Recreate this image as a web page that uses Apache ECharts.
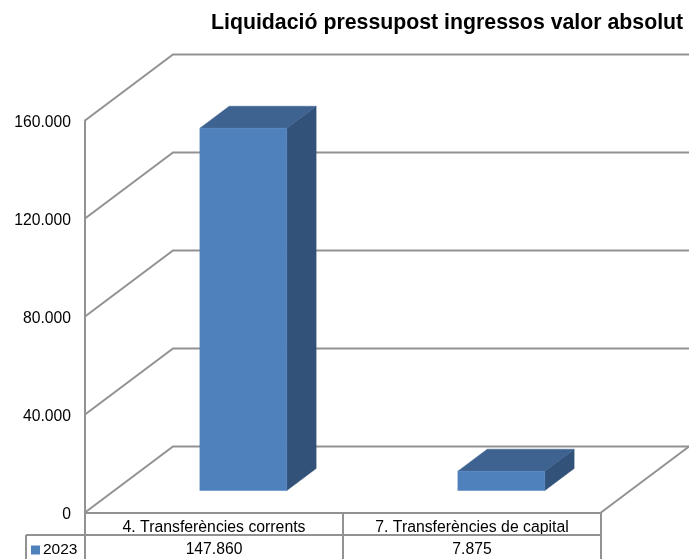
<!DOCTYPE html>
<html>
<head>
<meta charset="utf-8">
<style>html,body{margin:0;padding:0;background:#fff}#c{width:689px;height:559px}</style>
<script src="https://cdn.jsdelivr.net/npm/echarts@6/dist/echarts.min.js"></script>
</head>
<body>
<div id="c"></div>
<script>
const categories = ['4. Transferències corrents', '7. Transferències de capital'];
const values2023 = [147860, 7875];
const yTicks = [0, 40000, 80000, 120000, 160000];
const seriesName = '2023';
const titleText = 'Liquidació pressupost ingressos valor absolut';

const FONT = '"Liberation Sans", Arial, sans-serif';
const GRID = '#929292';
const DX = 88, DY = -66;            // depth of the 3D floor/walls
const BAR_SHIFT = 1 / 3, BAR_DEPTH = 1 / 3, BAR_RATIO = 0.337;
const fmt = v => String(v).replace(/\B(?=(\d{3})+(?!\d))/g, '.');
const lineStyle = { stroke: GRID, lineWidth: 2, fill: null };

function renderWall(params, api) {
  const band = api.size([1, 0])[0];
  const p = api.coord([0, api.value(1)]);
  const x0 = p[0] - band / 2, xEnd = x0 + band * categories.length;
  const children = [{
    type: 'polyline',
    shape: { points: [[x0, p[1]], [x0 + DX, p[1] + DY], [xEnd + DX, p[1] + DY]] },
    style: lineStyle
  }];
  if (api.value(1) === 0) {
    children.push({ type: 'line', shape: { x1: xEnd, y1: p[1], x2: xEnd + DX, y2: p[1] + DY }, style: lineStyle });
  }
  return { type: 'group', children };
}

function renderBar(params, api) {
  const band = api.size([1, 0])[0];
  const top = api.coord([api.value(0), api.value(1)]);
  const base = api.coord([api.value(0), 0]);
  const w = band * BAR_RATIO;
  const sx = DX * BAR_SHIFT, sy = DY * BAR_SHIFT;
  const dx = DX * BAR_DEPTH, dy = DY * BAR_DEPTH;
  const l = top[0] + sx - w / 2, r = l + w;
  const t = top[1] + sy, b = base[1] + sy;
  const poly = (points, fill) => ({ type: 'polygon', shape: { points }, style: { fill, stroke: fill, lineWidth: 0.5 } });
  return { type: 'group', children: [
    poly([[r, t], [r + dx, t + dy], [r + dx, b + dy], [r, b]], '#325279'),
    poly([[l, t], [l + dx, t + dy], [r + dx, t + dy], [r, t]], '#3e6390'),
    poly([[l, t], [r, t], [r, b], [l, b]], '#4f81bd')
  ]};
}

function renderTable(params, api) {
  const i = api.value(0);
  const band = api.size([1, 0])[0];
  const c = api.coord([i, 0]);
  const y0 = c[1], l = c[0] - band / 2, r = c[0] + band / 2;
  const row = 22.5, y1 = y0 + row, y2 = y0 + 47;
  const seg = (x1, yy1, x2, yy2) => ({ type: 'line', shape: { x1, y1: yy1, x2, y2: yy2 }, style: lineStyle });
  const children = [seg(l, y1, r, y1), seg(r, y0, r, y2)];
  if (i === 0) {
    children.push(seg(l, y0, l, y2), seg(l - 59, y1, l, y1), seg(l - 59, y1, l - 59, y2));
  }
  children.push({
    type: 'text',
    style: { x: c[0], y: y1 + 15, text: fmt(api.value(1)), font: '15.7px ' + FONT, fill: '#000', textAlign: 'center', textVerticalAlign: 'middle' }
  });
  return { type: 'group', children };
}

const chart = echarts.init(document.getElementById('c'), null, { renderer: 'canvas' });
chart.setOption({
  animation: false,
  backgroundColor: '#fff',
  title: {
    text: titleText, left: 206, top: 8,
    textStyle: { fontFamily: FONT, fontSize: 21.3, fontWeight: 'bold', color: '#000' }
  },
  legend: {
    data: [seriesName], left: 27, top: 540, itemWidth: 9, itemHeight: 9, itemGap: 2,
    icon: 'rect', padding: [2, 4],
    textStyle: { fontFamily: FONT, fontSize: 15.5, color: '#000', padding: [0, 0, 0, -2] }
  },
  grid: { left: 85, right: 88, top: 120.5, bottom: 46.5 },
  xAxis: {
    type: 'category', data: categories,
    axisLine: { show: true, lineStyle: { color: GRID, width: 2 } },
    axisTick: { show: false },
    axisLabel: { fontFamily: FONT, fontSize: 15.8, color: '#000', margin: 7, interval: 0 }
  },
  yAxis: {
    type: 'value', min: 0, max: 160000, interval: 40000,
    axisLine: { show: true, lineStyle: { color: GRID, width: 2 } },
    axisTick: { show: false },
    splitLine: { show: false },
    axisLabel: {
      margin: 14,
      formatter: v => '{t|' + fmt(v) + '}',
      rich: { t: { fontFamily: FONT, fontSize: 15.7, color: '#000', padding: [4, 0, 0, 0] } }
    }
  },
  series: [
    { type: 'custom', name: 'walls', silent: true, z: 1, renderItem: renderWall,
      data: yTicks.map(t => [0, t]), encode: { x: 0, y: 1 } },
    { type: 'custom', name: 'table', silent: true, z: 2, renderItem: renderTable,
      data: values2023.map((v, i) => [i, v]), encode: { x: 0, y: 1 } },
    { type: 'custom', name: seriesName, silent: true, z: 3, renderItem: renderBar,
      itemStyle: { color: '#4f81bd' },
      data: values2023.map((v, i) => [i, v]), encode: { x: 0, y: 1 } }
  ]
});
</script>
</body>
</html>
